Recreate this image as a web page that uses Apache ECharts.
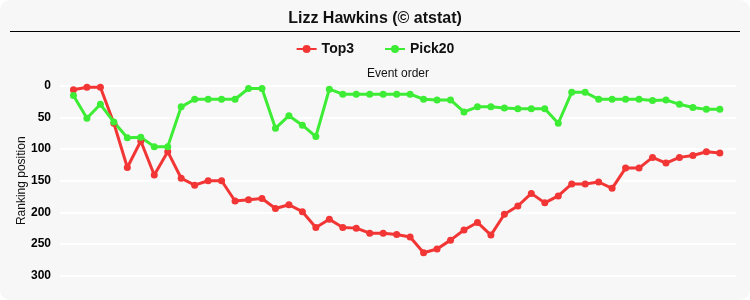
<!DOCTYPE html>
<html>
<head>
<meta charset="utf-8">
<script src="https://cdn.jsdelivr.net/npm/echarts@6/dist/echarts.min.js"></script>
<style>
html,body{margin:0;padding:0;background:#ffffff;}
#chart{width:750px;height:300px;background:#f7f7f7;border-radius:10px;overflow:hidden;}
</style>
</head>
<body>
<div id="chart"></div>
<script>
const events = [1,2,3,4,5,6,7,8,9,10,11,12,13,14,15,16,17,18,19,20,21,22,23,24,25,26,27,28,29,30,31,32,33,34,35,36,37,38,39,40,41,42,43,44,45,46,47,48,49];
const top3 = [6,2,2,59,129,87,141,104,146,157,150,150,182,180,178,194,188,199,224,211,224,225,233,233,235,239,264,258,244,228,216,236,203,190,170,185,174,155,155,152,162,130,130,113,122,113,110,104,106];
const pick20 = [15,51,29,57,82,81,96,96,33,21,21,21,21,4,4,67,47,62,80,5,13,13,13,13,13,13,21,22,22,41,33,33,35,36,36,36,59,10,10,21,21,21,21,23,22,29,34,37,37];
const yTicks = [0,50,100,150,200,250,300];

const font = 'Liberation Sans, Arial, sans-serif';
const chart = echarts.init(document.getElementById('chart'), null, {renderer:'canvas'});
chart.setOption({
  backgroundColor: 'transparent',
  animation: false,
  textStyle: {fontFamily: font},
  title: {
    text: 'Lizz Hawkins (© atstat)',
    left: 'center', top: 6,
    textStyle: {fontFamily: font, fontSize: 16, fontWeight: 'bold', color: '#111'}
  },
  graphic: [{
    type: 'line', shape: {x1: 10, y1: 31.5, x2: 740, y2: 31.5},
    style: {stroke: '#000', lineWidth: 1}
  }],
  legend: {
    top: 37, left: 'center',
    itemWidth: 20, itemHeight: 10, itemGap: 30,
    textStyle: {fontFamily: font, fontSize: 14, fontWeight: 'bold', color: '#111'},
    data: ['Top3', 'Pick20']
  },
  grid: {left: 60, right: 14, top: 86, bottom: 24.5},
  xAxis: {
    type: 'value', min: 0, max: 50.2, position: 'top',
    name: 'Event order', nameLocation: 'middle', nameGap: 6,
    nameTextStyle: {fontFamily: font, fontSize: 12, color: '#111'},
    axisLine: {show: false}, axisTick: {show: false}, axisLabel: {show: false},
    splitLine: {show: false}
  },
  yAxis: {
    type: 'value', inverse: true, min: yTicks[0], max: yTicks[yTicks.length-1], interval: 50,
    name: 'Ranking position', nameLocation: 'middle', nameGap: 32, nameRotate: 90,
    nameMoveOverlap: false,
    nameTextStyle: {fontFamily: font, fontSize: 12, color: '#111'},
    axisLine: {show: false}, axisTick: {show: false},
    axisLabel: {fontFamily: font, fontSize: 12, fontWeight: 'bold', color: '#000', margin: 9},
    splitLine: {show: true, lineStyle: {color: '#ffffff', width: 2}}
  },
  series: [
    {
      name: 'Top3', type: 'line',
      data: events.map((e, i) => [e, top3[i]]),
      symbol: 'circle', symbolSize: 7,
      itemStyle: {color: '#f23535'},
      lineStyle: {color: '#f23535', width: 3}
    },
    {
      name: 'Pick20', type: 'line',
      data: events.map((e, i) => [e, pick20[i]]),
      symbol: 'circle', symbolSize: 7,
      itemStyle: {color: '#3dec34'},
      lineStyle: {color: '#3dec34', width: 3}
    }
  ]
});
</script>
</body>
</html>
